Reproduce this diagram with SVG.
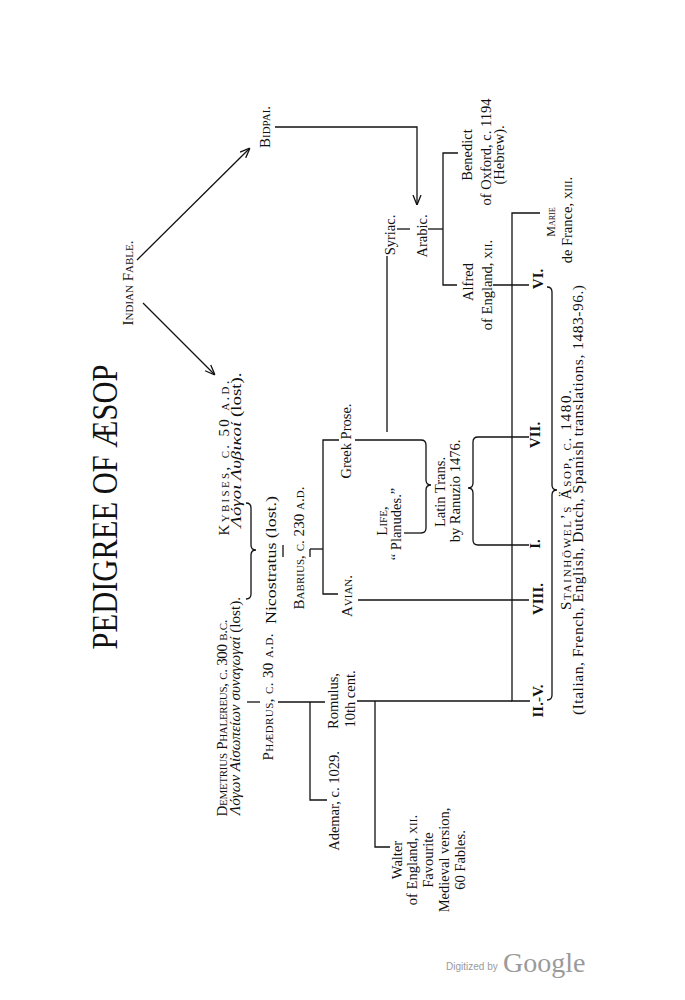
<svg xmlns="http://www.w3.org/2000/svg" width="685" height="1000" viewBox="0 0 685 1000">
<defs>
<style>
.t{font-family:"Liberation Serif","Times New Roman",serif;font-size:14.5px;fill:#111;text-anchor:middle}
.sc{font-variant:small-caps;font-size:15px}
.it{font-style:italic}
.rn{font-weight:bold;font-size:15px}
.title{font-size:36px}
.ln{stroke:#111;stroke-width:1.3;fill:none}
.wm{font-family:"Liberation Sans",Arial,sans-serif;fill:#9a9a9a}
</style>
<marker id="ah" viewBox="0 0 10 10" refX="10" refY="5" markerWidth="10" markerHeight="10" markerUnits="userSpaceOnUse" orient="auto">
<path d="M0,1 L10,5 L0,9" fill="none" stroke="#111" stroke-width="1.3"/>
</marker>
</defs>
<rect width="685" height="1000" fill="#fff"/>

<g id="title"><text class="t title" transform="translate(117,507) rotate(-90)" textLength="285" lengthAdjust="spacingAndGlyphs">PEDIGREE OF ÆSOP</text></g>

<g id="indian-fable"><text class="t sc" transform="translate(133,283) rotate(-90)">Indian Fable.</text></g>
<g id="bidpai"><text class="t sc" transform="translate(270,127) rotate(-90)">Bidpai.</text></g>
<g id="kybises">
<text class="t sc" transform="translate(229,458) rotate(-90)" textLength="155">Kybises, c. 50 a.d.</text>
<text class="t" transform="translate(241,450) rotate(-90)" textLength="155" lengthAdjust="spacingAndGlyphs"><tspan class="it">Λόγοι Λυβικοί</tspan> (lost).</text>
</g>
<g id="demetrius">
<text class="t sc" transform="translate(227,718) rotate(-90)" textLength="197">Demetrius Phalereus, c. 300 b.c.</text>
<text class="t" transform="translate(240,706) rotate(-90)" textLength="218" lengthAdjust="spacingAndGlyphs"><tspan class="it">Λόγων Αἰσωπείων συναγωγαί</tspan> (lost).</text>
</g>
<g id="nicostratus"><text class="t" transform="translate(276,560) rotate(-90)" textLength="128" lengthAdjust="spacingAndGlyphs">Nicostratus (lost.)</text></g>
<g id="phaedrus"><text class="t sc" transform="translate(273,697) rotate(-90)" textLength="127">Phædrus, c. 30 a.d.</text></g>
<g id="babrius"><text class="t sc" transform="translate(304,548) rotate(-90)" textLength="123">Babrius, c. 230 a.d.</text></g>
<g id="greek-prose"><text class="t" transform="translate(351,441) rotate(-90)">Greek Prose.</text></g>
<g id="avian"><text class="t sc" transform="translate(352,596) rotate(-90)">Avian.</text></g>
<g id="life">
<text class="t sc" transform="translate(387,521) rotate(-90)">Life,</text>
<text class="t" transform="translate(401,524) rotate(-90)">“ Planudes.”</text>
</g>
<g id="latin-trans">
<text class="t" transform="translate(445,492) rotate(-90)">Latin Trans.</text>
<text class="t" transform="translate(460,491) rotate(-90)">by Ranuzio 1476.</text>
</g>
<g id="syriac"><text class="t" transform="translate(395,235) rotate(-90)">Syriac.</text></g>
<g id="arabic"><text class="t" transform="translate(427,236) rotate(-90)">Arabic.</text></g>
<g id="benedict">
<text class="t" transform="translate(472,155) rotate(-90)">Benedict</text>
<text class="t" transform="translate(491,152) rotate(-90)">of Oxford, c. 1194</text>
<text class="t" transform="translate(504,155) rotate(-90)">(Hebrew).</text>
</g>
<g id="alfred">
<text class="t" transform="translate(473,282) rotate(-90)">Alfred</text>
<text class="t" transform="translate(492,285) rotate(-90)">of England, <tspan class="sc">xii.</tspan></text>
</g>
<g id="marie">
<text class="t sc" transform="translate(555,222) rotate(-90)" style="font-size:12px">Marie</text>
<text class="t" transform="translate(572,220) rotate(-90)">de France, <tspan class="sc">xiii.</tspan></text>
</g>
<g id="vi"><text class="t rn" transform="translate(543,279) rotate(-90)">VI.</text></g>
<g id="vii"><text class="t rn" transform="translate(540,435) rotate(-90)">VII.</text></g>
<g id="i"><text class="t rn" transform="translate(540,544) rotate(-90)">I.</text></g>
<g id="viii"><text class="t rn" transform="translate(543,599) rotate(-90)">VIII.</text></g>
<g id="ii-v"><text class="t rn" transform="translate(543,701) rotate(-90)">II.-V.</text></g>
<g id="stainhowel">
<text class="t sc" transform="translate(571,500) rotate(-90)" textLength="220">Stainhöwel’s Äsop, c. 1480.</text>
<text class="t" transform="translate(583,500) rotate(-90)" style="font-size:15.5px" textLength="430">(Italian, French, English, Dutch, Spanish translations, 1483-96.)</text>
</g>
<g id="ademar"><text class="t" transform="translate(339,801) rotate(-90)">Ademar, c. 1029.</text></g>
<g id="romulus">
<text class="t" transform="translate(338,701) rotate(-90)">Romulus,</text>
<text class="t" transform="translate(355,699) rotate(-90)">10th cent.</text>
</g>
<g id="walter">
<text class="t" transform="translate(402,860) rotate(-90)">Walter</text>
<text class="t" transform="translate(417,860) rotate(-90)">of England, <tspan class="sc">xii.</tspan></text>
<text class="t" transform="translate(433,860) rotate(-90)">Favourite</text>
<text class="t" transform="translate(449,860) rotate(-90)">Medieval version,</text>
<text class="t" transform="translate(465,860) rotate(-90)">60 Fables.</text>
</g>

<g id="connectors">
<line class="ln" x1="137" y1="260" x2="250" y2="148" marker-end="url(#ah)"/>
<line class="ln" x1="143" y1="303" x2="215" y2="375" marker-end="url(#ah)"/>
<polyline class="ln" points="275,127 417,127 417,205" marker-end="url(#ah)"/>
<path class="ln" d="M246,503 Q251,503 251,508 L251,545 Q251,550 256,550 Q251,550 251,555 L251,594 Q251,599 246,599"/>
<line class="ln" x1="283" y1="545" x2="283" y2="557"/>
<line class="ln" x1="310" y1="549" x2="310" y2="557"/>
<line class="ln" x1="310" y1="549" x2="323" y2="549"/>
<polyline class="ln" points="338,594 323,594 323,440 339,440"/>
<line class="ln" x1="355" y1="440" x2="421" y2="440"/>
<line class="ln" x1="404" y1="533" x2="421" y2="533"/>
<path class="ln" d="M421,440 Q426,440 426,445 L426,480 Q426,485 431,485 Q426,485 426,490 L426,528 Q426,533 421,533"/>
<line class="ln" x1="387" y1="256" x2="387" y2="432"/>
<line class="ln" x1="397" y1="229" x2="410" y2="229"/>
<polyline class="ln" points="428,229 443,229"/>
<polyline class="ln" points="458,153 443,153 443,285 457,285"/>
<line class="ln" x1="493" y1="285" x2="529" y2="285"/>
<polyline class="ln" points="540,213 512,213 512,701 530,701"/>
<path class="ln" d="M478,437 Q473,437 473,442 L473,483 Q473,488 468,488 Q473,488 473,493 L473,540 Q473,545 478,545"/>
<line class="ln" x1="478" y1="437" x2="529" y2="437"/>
<line class="ln" x1="478" y1="545" x2="529" y2="545"/>
<line class="ln" x1="358" y1="600" x2="529" y2="600"/>
<path class="ln" d="M547,287 Q552,287 552,292 L552,485 Q552,490 557,490 Q552,490 552,495 L552,695 Q552,700 547,700"/>
<line class="ln" x1="357" y1="701" x2="512" y2="701"/>
<polyline class="ln" points="375,701 375,847 390,847"/>
<line class="ln" x1="247" y1="702" x2="260" y2="702"/>
<line class="ln" x1="278" y1="702" x2="325" y2="702"/>
<polyline class="ln" points="310,702 310,800 327,800"/>
</g>

<g id="watermark">
<text class="wm" x="446" y="970" font-size="10">Digitized by</text>
<text x="503" y="972" font-family="Liberation Serif,serif" font-size="28" fill="#9a9a9a">Google</text>
</g>
</svg>
